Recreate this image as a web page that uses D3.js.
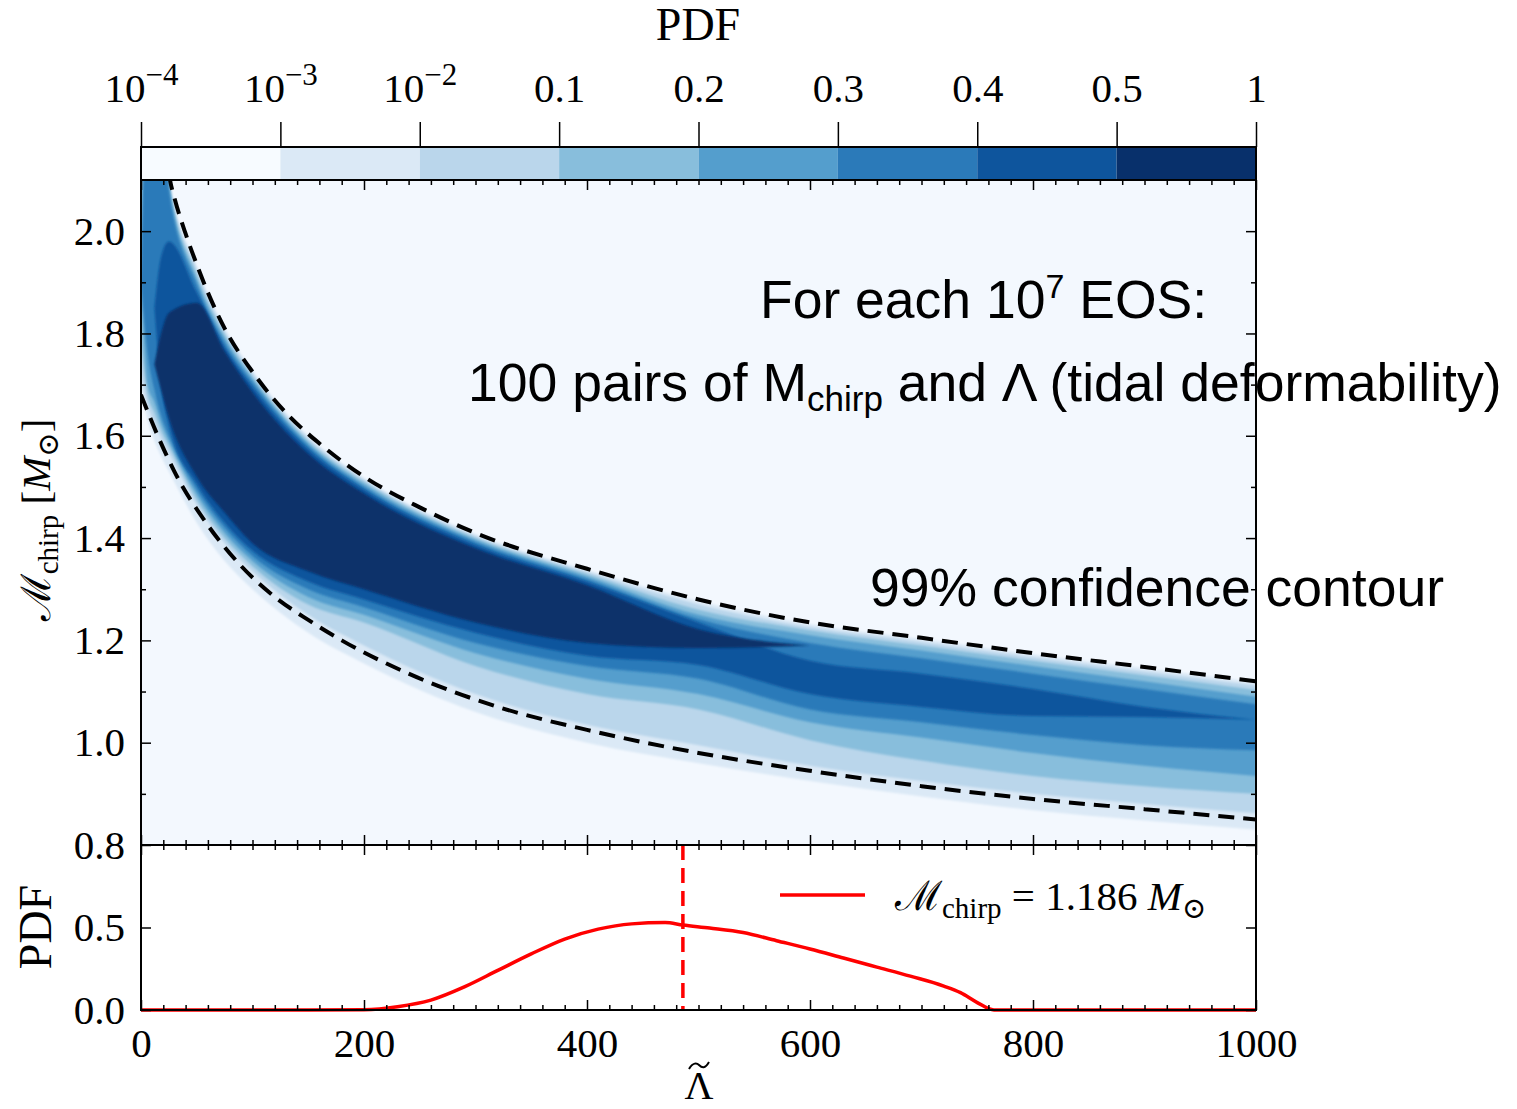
<!DOCTYPE html>
<html>
<head>
<meta charset="utf-8">
<script src="https://cdn.jsdelivr.net/npm/d3@7"></script>
<style>
  body { margin: 0; background: #fff; }
  .tick line { stroke: #000; stroke-width: 1.5px; }
</style>
</head>
<body>
<div id="chart"></div>
<script>
// ---- data ----
// colour bar boundaries
var cbLabels = ["10^−4", "10^−3", "10^−2", "0.1", "0.2", "0.3", "0.4", "0.5", "1"];

// heat map: nested PDF level bands, M_chirp bounds at each Lambda (null = level absent)
var lambdaGrid = [0, 6, 12, 18, 25, 50, 75, 100, 150, 200, 300, 400, 500, 600, 700, 800, 900, 1000];
var hi1 = [2.3, 2.3, 2.3, 2.3, 2.11, 1.933, 1.812, 1.728, 1.6, 1.518, 1.408, 1.338, 1.277, 1.232, 1.203, 1.173, 1.146, 1.118];
var lo1 = [1.69, 1.63, 1.59, 1.56, 1.53, 1.43, 1.355, 1.30, 1.215, 1.155, 1.06, 1.0, 0.96, 0.925, 0.895, 0.868, 0.848, 0.83];
var hi2 = [2.3, 2.3, 2.3, 2.3, 2.105, 1.925, 1.805, 1.722, 1.595, 1.514, 1.404, 1.334, 1.27, 1.226, 1.197, 1.167, 1.139, 1.112];
var lo2 = [1.72, 1.66, 1.625, 1.595, 1.567, 1.465, 1.39, 1.335, 1.25, 1.19, 1.095, 1.035, 0.995, 0.955, 0.925, 0.90, 0.88, 0.862];
var hi3 = [2.3, 2.3, 2.3, 2.3, 2.10, 1.915, 1.798, 1.716, 1.59, 1.51, 1.40, 1.33, 1.26, 1.22, 1.19, 1.16, 1.132, 1.103];
var lo3 = [1.78, 1.68, 1.645, 1.61, 1.58, 1.475, 1.40, 1.345, 1.27, 1.235, 1.15, 1.095, 1.065, 1.005, 0.965, 0.935, 0.915, 0.90];
var hi4 = [1.9, 2.3, 2.3, 2.3, 2.09, 1.905, 1.79, 1.71, 1.585, 1.505, 1.396, 1.325, 1.25, 1.21, 1.18, 1.15, 1.12, 1.09];
var lo4 = [1.9, 1.70, 1.665, 1.625, 1.59, 1.485, 1.41, 1.355, 1.285, 1.25, 1.175, 1.125, 1.095, 1.04, 1.01, 0.98, 0.955, 0.935];
var hi5 = [1.9, 2.3, 2.3, 2.3, 2.08, 1.895, 1.782, 1.704, 1.58, 1.50, 1.392, 1.32, 1.242, 1.195, 1.165, 1.135, 1.105, 1.075];
var lo5 = [1.9, 1.76, 1.69, 1.64, 1.60, 1.495, 1.42, 1.365, 1.30, 1.265, 1.195, 1.15, 1.125, 1.065, 1.04, 1.015, 0.995, 0.985];
var hi6 = [null, null, 1.85, 1.95, 1.98, 1.88, 1.773, 1.696, 1.574, 1.495, 1.387, 1.315, 1.235, 1.16, 1.135, 1.105, 1.07, 1.045];
var lo6 = [null, null, 1.85, 1.70, 1.62, 1.505, 1.43, 1.375, 1.315, 1.28, 1.215, 1.17, 1.152, 1.095, 1.07, 1.052, 1.05, 1.045];
var hi7 = [null, null, 1.74, 1.80, 1.84, 1.86, 1.765, 1.685, 1.565, 1.487, 1.38, 1.308, 1.222, 1.19, null, null, null, null];
var lo7 = [null, null, 1.74, 1.69, 1.635, 1.52, 1.45, 1.39, 1.335, 1.30, 1.235, 1.195, 1.185, 1.19, null, null, null, null];

// 99% confidence contour
var upperL = [22, 26, 30, 40, 50, 60, 75, 100, 130, 160, 200, 250, 300, 400, 500, 600, 700, 800, 900, 1000];
var upperM = [2.16, 2.10, 2.065, 1.995, 1.935, 1.88, 1.81, 1.725, 1.645, 1.585, 1.52, 1.46, 1.41, 1.34, 1.28, 1.235, 1.205, 1.175, 1.148, 1.12];
var lowerL = [0, 15, 30, 60, 90, 120, 150, 180, 240, 320, 400, 500, 600, 700, 800, 900, 1000];
var lowerM = [1.68, 1.60, 1.53, 1.425, 1.345, 1.285, 1.24, 1.20, 1.135, 1.07, 1.025, 0.98, 0.945, 0.915, 0.89, 0.87, 0.85];

// bottom panel: PDF of Lambda at M_chirp = 1.186
var pdfL = [0, 150, 200, 230, 260, 290, 320, 350, 380, 410, 440, 470, 486, 510, 540, 570, 600, 630, 660, 690, 720, 735, 750, 765, 800, 1000];
var pdfV = [0, 0, 0.002, 0.02, 0.06, 0.14, 0.24, 0.34, 0.43, 0.49, 0.522, 0.53, 0.515, 0.497, 0.47, 0.42, 0.37, 0.315, 0.26, 0.205, 0.145, 0.105, 0.045, 0, 0, 0];
var medianLambda = 486;

var xTicks = [0, 200, 400, 600, 800, 1000];
var yMainTicks = [0.8, 1.0, 1.2, 1.4, 1.6, 1.8, 2.0];
var yPdfTicks = [0, 0.5];

// ---- layout ----
var W = 1517, H = 1109;
var serif = "'Liberation Serif', 'DejaVu Serif', serif";
var sans = "'Liberation Sans', Arial, sans-serif";

var svg = d3.select("#chart").append("svg")
    .attr("width", W).attr("height", H)
    .style("display", "block");

var x = d3.scaleLinear().domain([0, 1000]).range([141, 1256]);
var yMain = d3.scaleLinear().domain([0.8, 2.1]).range([845, 180]);
var yPdf = d3.scaleLinear().domain([0, 1]).range([1010, 845]);
var cbx = d3.scalePoint().domain(cbLabels).range([141, 1256]);

// clips
svg.append("clipPath").attr("id", "mainClip")
  .append("rect").attr("x", 141).attr("y", 180).attr("width", 1115).attr("height", 665);
svg.append("clipPath").attr("id", "pdfClip")
  .append("rect").attr("x", 141).attr("y", 840).attr("width", 1115).attr("height", 175);

// ---- main panel heat map ----
var heat = svg.append("g").attr("clip-path", "url(#mainClip)");
heat.append("rect").attr("x", 141).attr("y", 180).attr("width", 1115).attr("height", 665)
    .attr("fill", d3.interpolateBlues(0.02));

var bandHi = [hi1, hi2, hi3, hi4, hi5, hi6, hi7];
var bandLo = [lo1, lo2, lo3, lo4, lo5, lo6, lo7];

var blur = svg.append("filter").attr("id", "soft");
blur.append("feGaussianBlur").attr("stdDeviation", 1.2);

bandHi.forEach(function(hi, k) {
    var lo = bandLo[k];
    var area = d3.area()
        .curve(d3.curveMonotoneX)
        .defined(function(d, i) { return hi[i] != null; })
        .x(function(d) { return x(d); })
        .y0(function(d, i) { return yMain(lo[i]); })
        .y1(function(d, i) { return yMain(hi[i]); });
    heat.append("path")
        .datum(lambdaGrid)
        .attr("d", area)
        .attr("fill", d3.interpolateBlues((k + 1) / 7))
        .attr("filter", "url(#soft)");
});

// contour lines
var contourLine = d3.line().curve(d3.curveMonotoneX)
    .x(function(d) { return x(d[0]); })
    .y(function(d) { return yMain(d[1]); });

[[upperL, upperM], [lowerL, lowerM]].forEach(function(c) {
    heat.append("path")
        .datum(c[0].map(function(l, i) { return [l, c[1][i]]; }))
        .attr("d", contourLine)
        .attr("fill", "none")
        .attr("stroke", "#000")
        .attr("stroke-width", 4)
        .attr("stroke-dasharray", "16,9");
});

// ---- annotations ----
var ann = svg.append("g").attr("font-family", sans).attr("font-size", 53.5).attr("fill", "#000");
var t1 = ann.append("text").attr("x", 760).attr("y", 318);
t1.append("tspan").text("For each 10");
t1.append("tspan").attr("font-size", 34).attr("dy", -20).text("7");
t1.append("tspan").attr("dy", 20).text(" EOS:");

var t2 = ann.append("text").attr("x", 468).attr("y", 401);
t2.append("tspan").text("100 pairs of M");
t2.append("tspan").attr("font-size", 35).attr("dy", 10).text("chirp");
t2.append("tspan").attr("dy", -10).text(" and Λ (tidal deformability)");

ann.append("text").attr("x", 870).attr("y", 606).text("99% confidence contour");

// ---- bottom panel ----
var pdfG = svg.append("g").attr("clip-path", "url(#pdfClip)");
var pdfLine = d3.line().curve(d3.curveMonotoneX)
    .x(function(d) { return x(d[0]); })
    .y(function(d) { return yPdf(d[1]); });

// ---- axes helper ----
function addAxis(gen, scale, tx, ty, vals, size, fmt, pad) {
    var ax = gen(scale).tickValues(vals).tickSizeInner(size).tickSizeOuter(0)
        .tickPadding(pad).tickFormat(fmt);
    var g = svg.append("g").attr("transform", "translate(" + tx + "," + ty + ")").call(ax);
    g.select(".domain").remove();
    g.attr("font-family", serif).attr("font-size", 41);
    g.selectAll(".tick text").attr("fill", "#000");
    return g;
}
var none = function() { return ""; };
var xMinor = d3.range(20, 1000, 20).filter(function(v) { return v % 200 !== 0; });
var yMinor = d3.range(9, 21, 2).map(function(v) { return v / 10; });

// main panel ticks
addAxis(d3.axisLeft, yMain, 141, 0, yMainTicks, -10, d3.format(".1f"), 16);
addAxis(d3.axisLeft, yMain, 141, 0, yMinor, -5, none, 0);
addAxis(d3.axisRight, yMain, 1256, 0, yMainTicks, -10, none, 0);
addAxis(d3.axisRight, yMain, 1256, 0, yMinor, -5, none, 0);
addAxis(d3.axisTop, x, 0, 180, xTicks, -10, none, 0);
addAxis(d3.axisTop, x, 0, 180, xMinor, -5, none, 0);
addAxis(d3.axisBottom, x, 0, 845, xTicks, -10, none, 0);
addAxis(d3.axisBottom, x, 0, 845, xMinor, -5, none, 0);

// bottom panel ticks
addAxis(d3.axisLeft, yPdf, 141, 0, yPdfTicks, -10, d3.format(".1f"), 16);
addAxis(d3.axisRight, yPdf, 1256, 0, yPdfTicks, -10, none, 0);
addAxis(d3.axisTop, x, 0, 845, xTicks, -10, none, 0);
addAxis(d3.axisTop, x, 0, 845, xMinor, -5, none, 0);
addAxis(d3.axisBottom, x, 0, 1010, xTicks, -10, d3.format("d"), 18);
addAxis(d3.axisBottom, x, 0, 1010, xMinor, -5, none, 0);

// frames
svg.append("rect").attr("x", 141).attr("y", 180).attr("width", 1115).attr("height", 665)
    .attr("fill", "none").attr("stroke", "#000").attr("stroke-width", 2);
svg.append("rect").attr("x", 141).attr("y", 845).attr("width", 1115).attr("height", 165)
    .attr("fill", "none").attr("stroke", "#000").attr("stroke-width", 2);

// pdf curve and median marker (drawn over the frame like the original)
pdfG.append("path")
    .datum(pdfL.map(function(l, i) { return [l, pdfV[i]]; }))
    .attr("d", pdfLine)
    .attr("fill", "none")
    .attr("stroke", "#ff0000")
    .attr("stroke-width", 3.5);
pdfG.append("line")
    .attr("x1", x(medianLambda)).attr("x2", x(medianLambda))
    .attr("y1", yPdf(1)).attr("y2", yPdf(0))
    .attr("stroke", "#ff0000").attr("stroke-width", 3.5)
    .attr("stroke-dasharray", "15,8");

// legend
svg.append("line").attr("x1", 780).attr("x2", 865).attr("y1", 895).attr("y2", 895)
    .attr("stroke", "#ff0000").attr("stroke-width", 3.5);
var leg = svg.append("text").attr("x", 895).attr("y", 910)
    .attr("font-family", serif).attr("font-size", 41);
leg.append("tspan").text("ℳ");
leg.append("tspan").attr("font-size", 29).attr("dy", 8).text("chirp");
leg.append("tspan").attr("dy", -8).text(" = 1.186 ");
leg.append("tspan").attr("font-style", "italic").text("M");
leg.append("tspan").attr("font-size", 29).attr("dy", 8).text("⊙");

// ---- colour bar ----
var cb = svg.append("g");
cbLabels.slice(0, -1).forEach(function(lab, i) {
    cb.append("rect")
        .attr("x", cbx(lab)).attr("y", 147)
        .attr("width", cbx(cbLabels[i + 1]) - cbx(lab)).attr("height", 33)
        .attr("fill", d3.interpolateBlues(i / 7));
});
cb.append("rect").attr("x", 141).attr("y", 147).attr("width", 1115).attr("height", 33)
    .attr("fill", "none").attr("stroke", "#000").attr("stroke-width", 2);
var cbAxis = addAxis(d3.axisTop, cbx, 0, 147, cbLabels, 25, none, 20);
cbAxis.selectAll(".tick line").attr("stroke-width", 2);
cbAxis.selectAll(".tick text").each(function(d) {
    var parts = d.split("^");
    var t = d3.select(this);
    t.append("tspan").text(parts[0]);
    if (parts.length > 1) {
        t.append("tspan").attr("font-size", 31).attr("dy", -17).text(parts[1]);
    }
});

// ---- axis titles ----
svg.append("text").attr("x", 698).attr("y", 40).attr("text-anchor", "middle")
    .attr("font-family", serif).attr("font-size", 46).text("PDF");

svg.append("text").attr("x", 699).attr("y", 1099).attr("text-anchor", "middle")
    .attr("font-family", serif).attr("font-size", 40).text("Λ");
// tilde accent over Lambda
svg.append("path")
    .attr("d", "M689,1069 C693,1062 697,1063 699,1065 C702,1068 705,1069 709,1062")
    .attr("fill", "none").attr("stroke", "#000").attr("stroke-width", 2);

var yl = svg.append("text").attr("transform", "translate(50,520) rotate(-90)")
    .attr("text-anchor", "middle").attr("font-family", serif).attr("font-size", 41);
yl.append("tspan").text("ℳ");
yl.append("tspan").attr("font-size", 29).attr("dy", 8).text("chirp");
yl.append("tspan").attr("dy", -8).text("   [");
yl.append("tspan").attr("font-style", "italic").text("M");
yl.append("tspan").attr("font-size", 29).attr("dy", 8).text("⊙");
yl.append("tspan").attr("dy", -8).text("]");

svg.append("text").attr("transform", "translate(51,927) rotate(-90)")
    .attr("text-anchor", "middle").attr("font-family", serif).attr("font-size", 46).text("PDF");
</script>
</body>
</html>
